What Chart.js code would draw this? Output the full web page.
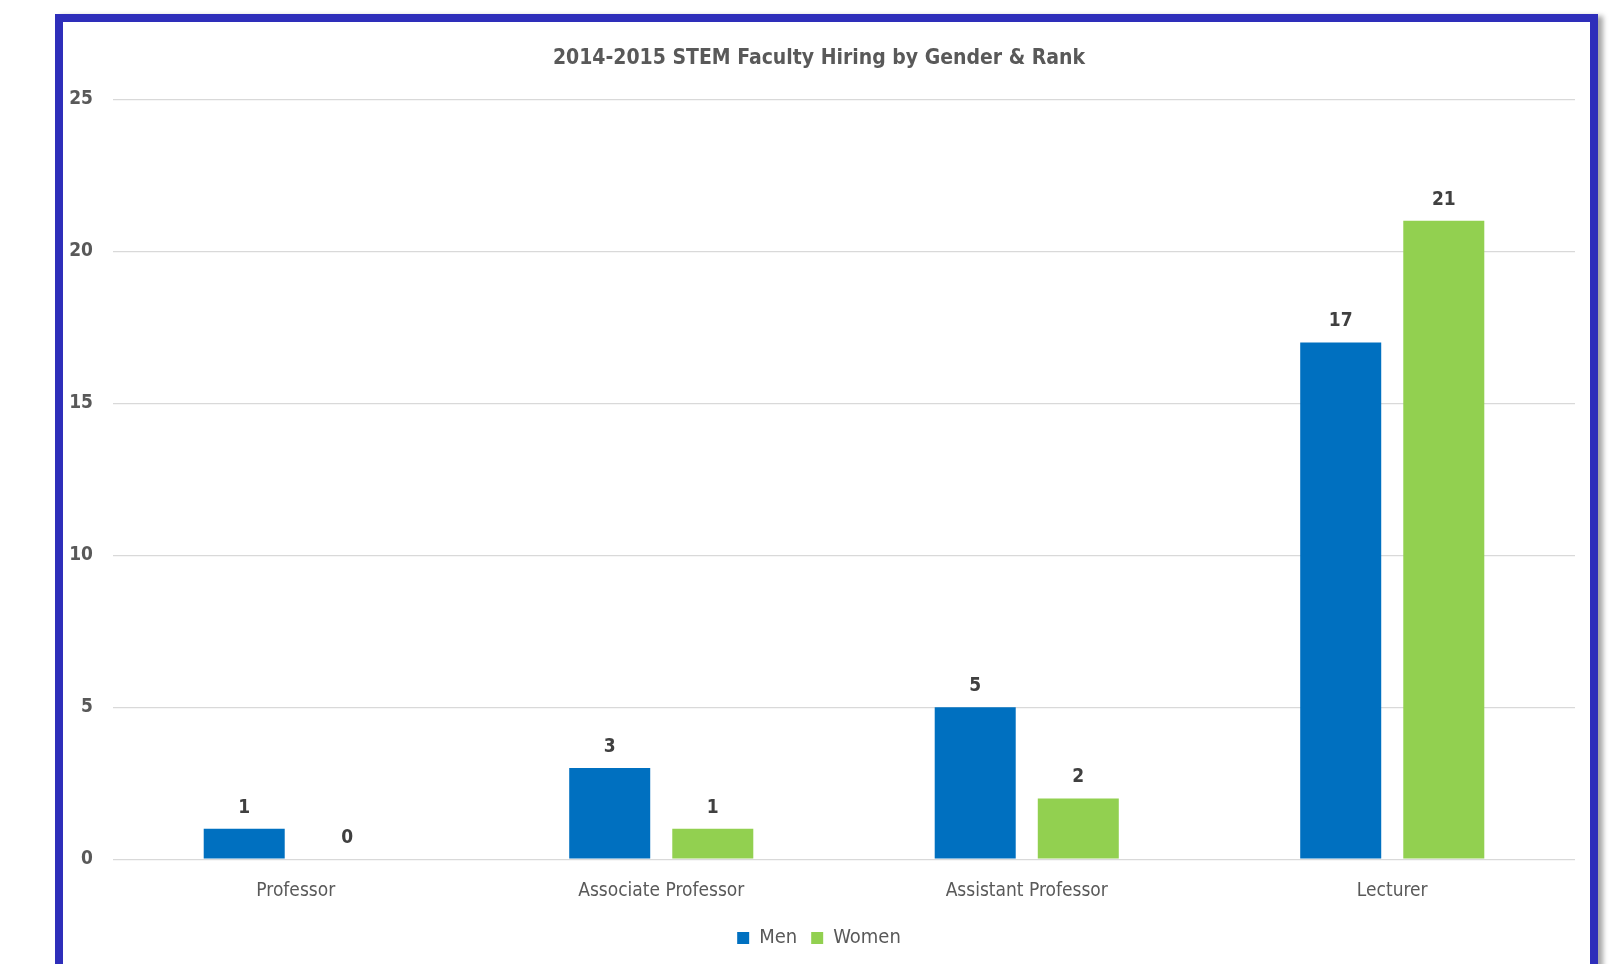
<!DOCTYPE html>
<html lang="en">
<head>
    <meta charset="UTF-8">
    <title>STEM Faculty Hiring</title>
    <style>
        html, body { margin: 0; padding: 0; background: #fff; overflow: hidden; }
        #frame {
            position: absolute;
            left: 55px; top: 14px;
            width: 1527px; height: 1000px;
            border: 8px solid #2E2EBA;
            box-shadow: 5px 2px 5px rgba(0,0,0,0.35);
            background: #fff;
        }
        #box { position: relative; width: 1527px; height: 942px; }
    </style>
</head>
<body>
    <div id="frame">
        <div id="box"><canvas id="myChart"></canvas></div>
    </div>
    <script src="https://cdn.jsdelivr.net/npm/chart.js"></script>
<script>
    const ranks = ['Professor', 'Associate Professor', 'Assistant Professor', 'Lecturer']
    const men = [1, 3, 5, 17]
    const women = [0, 1, 2, 21]
    const yTicks = [0, 5, 10, 15, 20, 25]

    const FONT = "'DejaVu Sans Condensed', 'Liberation Sans', sans-serif"
    const GREY = '#595959'

    // numbers above each bar
    const barValues = {
        id: 'barValues',
        afterDatasetsDraw(chart) {
            const ctx = chart.ctx
            ctx.save()
            ctx.font = 'bold 19px ' + FONT
            ctx.fillStyle = '#404040'
            ctx.textAlign = 'center'
            ctx.textBaseline = 'middle'
            chart.data.datasets.forEach((ds, i) => {
                chart.getDatasetMeta(i).data.forEach((bar, j) => {
                    ctx.fillText(ds.data[j], bar.x, bar.y - 21)
                })
            })
            ctx.restore()
        }
    }

    const ctx = document.getElementById('myChart')
    new Chart(ctx, {
        type: 'bar',
        data: {
            labels: ranks,
            datasets: [
                { label: 'Men', data: men, backgroundColor: '#0070C0' },
                { label: 'Women', data: women, backgroundColor: '#92D050' }
            ]
        },
        options: {
            responsive: true,
            maintainAspectRatio: false,
            animation: false,
            barPercentage: 0.786,
            categoryPercentage: 0.564,
            layout: { padding: { left: 0, right: 15, top: 0, bottom: 6 } },
            plugins: {
                title: {
                    display: true,
                    text: '2014-2015 STEM Faculty Hiring by Gender & Rank',
                    color: GREY,
                    font: { family: FONT, size: 21, weight: 'bold' },
                    padding: { top: 24, bottom: 28 }
                },
                legend: {
                    position: 'bottom',
                    labels: {
                        color: GREY,
                        boxWidth: 12,
                        boxHeight: 12,
                        padding: 14,
                        font: { family: FONT, size: 20 }
                    }
                },
                tooltip: { enabled: false }
            },
            scales: {
                x: {
                    grid: { display: false },
                    border: { display: false },
                    ticks: {
                        color: GREY,
                        padding: 12,
                        font: { family: FONT, size: 19 }
                    }
                },
                y: {
                    min: 0,
                    max: 25,
                    afterBuildTicks: axis => { axis.ticks = yTicks.map(v => ({ value: v })) },
                    afterFit: axis => { axis.width = 50 },
                    grid: { color: '#D9D9D9', lineWidth: 1.3, drawTicks: false },
                    border: { display: false },
                    ticks: {
                        color: GREY,
                        padding: 20,
                        font: { family: FONT, size: 19, weight: 'bold' }
                    }
                }
            }
        },
        plugins: [barValues]
    })
</script>
</body>
</html>
